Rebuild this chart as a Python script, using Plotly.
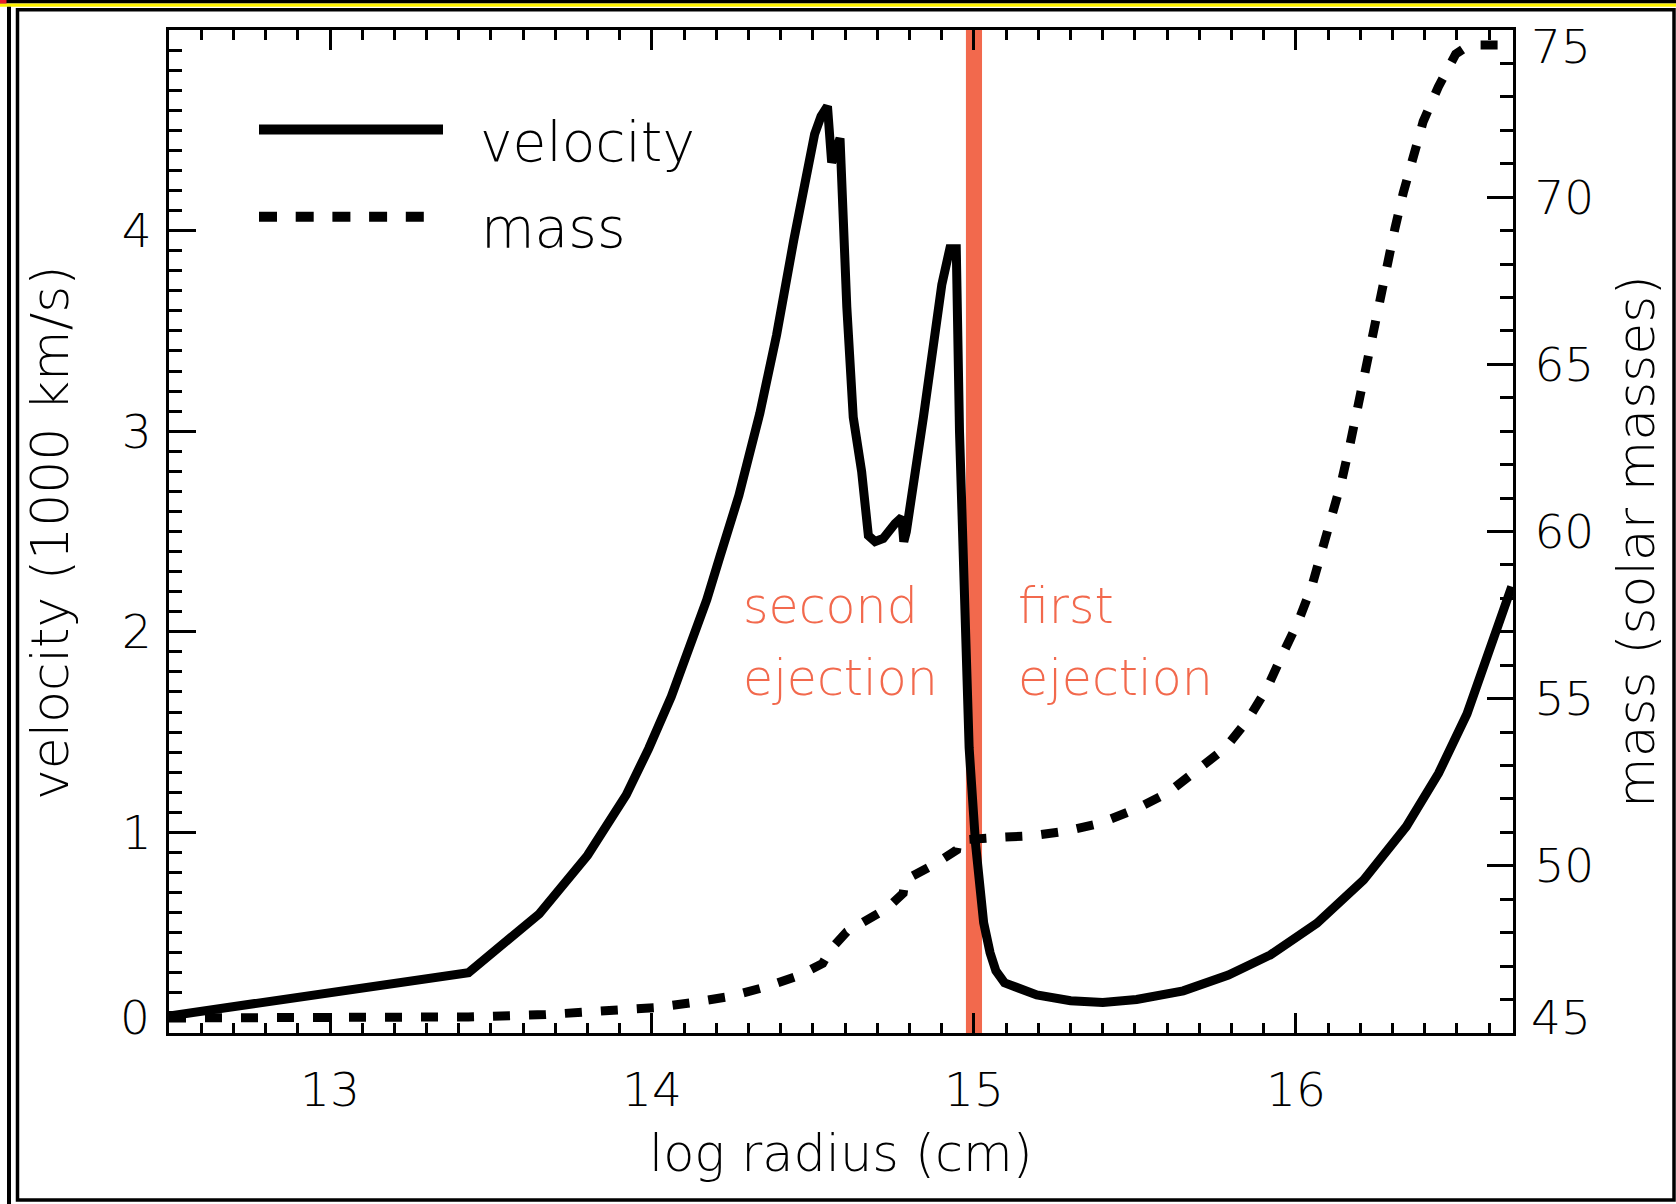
import plotly.graph_objects as go

# ---------------- data ----------------
vel_x = [12.50, 13.43, 13.65, 13.80, 13.92, 13.99, 14.06, 14.12, 14.17, 14.21,
         14.27, 14.335, 14.387, 14.44, 14.48, 14.505, 14.525, 14.545, 14.558,
         14.584, 14.605, 14.625, 14.651, 14.672, 14.693, 14.718, 14.755, 14.776,
         14.782, 14.79, 14.843, 14.874, 14.900, 14.925, 14.945, 14.955, 14.967,
         14.975, 14.985, 15.005, 15.030, 15.050, 15.068, 15.095, 15.195, 15.300,
         15.400, 15.505, 15.650, 15.790, 15.920, 16.065, 16.210, 16.343, 16.443,
         16.531, 16.598, 16.670]
vel_y = [0.085, 0.30, 0.594, 0.886, 1.187, 1.419, 1.677, 1.935, 2.159, 2.37,
         2.68, 3.09, 3.48, 3.95, 4.30, 4.48, 4.57, 4.62, 4.34,
         4.46, 3.62, 3.07, 2.80, 2.48, 2.45, 2.465, 2.54, 2.57,
         2.45, 2.50, 3.07, 3.43, 3.73, 3.91, 3.91, 3.00, 2.36,
         1.90, 1.42, 0.94, 0.55, 0.40, 0.31, 0.25, 0.19, 0.161,
         0.152, 0.167, 0.21, 0.289, 0.389, 0.547, 0.763, 1.03, 1.295,
         1.59, 1.89, 2.225]

mass_x = [12.50, 13.00, 13.43, 13.67, 13.90, 14.01, 14.12, 14.24, 14.35, 14.46,
          14.53, 14.553, 14.605, 14.667, 14.73, 14.78, 14.786, 14.874, 14.946,
          14.951, 15.00, 15.08, 15.18, 15.28, 15.39, 15.50, 15.60, 15.69, 15.78,
          15.85, 15.91, 15.955, 16.005, 16.049, 16.082, 16.113, 16.141, 16.167,
          16.19, 16.211, 16.234, 16.26, 16.281, 16.307, 16.333, 16.364, 16.395,
          16.442, 16.496, 16.53, 16.571, 16.635]
mass_y = [45.45, 45.46, 45.48, 45.55, 45.68, 45.76, 45.90, 46.09, 46.37, 46.73,
          47.08, 47.48, 48.03, 48.38, 48.73, 49.18, 49.58, 50.03, 50.47,
          50.77, 50.82, 50.85, 50.90, 51.03, 51.27, 51.69, 52.17, 52.82, 53.52,
          54.36, 55.31, 56.26, 57.26, 58.35, 59.45, 60.47, 61.48, 62.57,
          63.67, 64.76, 65.82, 66.91, 68.00, 69.05, 70.12, 71.21, 72.26,
          73.30, 74.28, 74.50, 74.55, 74.55]

x_ticks = [13, 14, 15, 16]
x_range = [12.5, 16.674]
v_ticks = [1, 2, 3, 4]
v_range = [0, 5]
m_ticks = [50, 55, 60, 65, 70]
m_range = [45, 75]
ejection_boundary = 15.0
ejection_halfwidth = 0.025

# ---------------- styling / geometry ----------------
W, H = 1676, 1204
L, R, T, B = 169, 1513, 30, 1033
FONT = "DejaVu Sans"
FW = 200
FS = 47
ORANGE = "#F2694D"


def px(X):
    return (X - L) / (R - L)


def py(Y):
    return (B - Y) / (B - T)


fig = go.Figure()
fig.add_trace(go.Scatter(x=vel_x, y=vel_y, mode="lines",
                         line=dict(color="black", width=9),
                         showlegend=False, yaxis="y"))
fig.add_trace(go.Scatter(x=mass_x, y=mass_y, mode="lines",
                         line=dict(color="black", width=9, dash="17px,19px"),
                         showlegend=False, yaxis="y2"))

shapes = [
    # ejection band
    dict(type="rect", xref="x", yref="paper",
         x0=ejection_boundary - ejection_halfwidth,
         x1=ejection_boundary + ejection_halfwidth,
         y0=0, y1=1, fillcolor=ORANGE, line=dict(width=0), layer="below"),
    # legend keys
    dict(type="line", xref="paper", yref="paper", x0=px(259), x1=px(443),
         y0=py(129.5), y1=py(129.5), line=dict(color="black", width=10)),
    dict(type="line", xref="paper", yref="paper", x0=px(259), x1=px(426),
         y0=py(216.7), y1=py(216.7),
         line=dict(color="black", width=10, dash="18px,18.7px")),
    # frame decorations
    dict(type="rect", xref="paper", yref="paper", x0=px(0), x1=px(W),
         y0=py(0), y1=py(3.5), fillcolor="black", line=dict(width=0)),
    dict(type="rect", xref="paper", yref="paper", x0=px(0), x1=px(W),
         y0=py(3.5), y1=py(6.7), fillcolor="#FFF200", line=dict(width=0)),
    dict(type="rect", xref="paper", yref="paper", x0=px(0), x1=px(6.5),
         y0=py(0), y1=py(3.5), fillcolor="#E8202A", line=dict(width=0)),
    dict(type="rect", xref="paper", yref="paper", x0=px(7), x1=px(11),
         y0=py(6.7), y1=py(H), fillcolor="black", line=dict(width=0)),
    dict(type="rect", xref="paper", yref="paper", x0=px(17.5), x1=px(1674),
         y0=py(9.7), y1=py(1200), line=dict(color="black", width=3.5)),
]

annotations = []


def add_text(text, X, Y, xanchor="left", color="black", angle=0, size=FS):
    annotations.append(dict(text=text, xref="paper", yref="paper",
                            x=px(X), y=py(Y), xanchor=xanchor, yanchor="middle",
                            showarrow=False, textangle=angle,
                            font=dict(family=FONT, size=size, color=color,
                                      weight=FW)))


add_text("velocity", 478, 142, size=55)
add_text("mass", 479, 228, size=55)
add_text("second", 741, 606, color=ORANGE, size=49)
add_text("ejection", 741, 679, color=ORANGE, size=49)
add_text("first", 1016, 606, color=ORANGE, size=49)
add_text("ejection", 1016, 679, color=ORANGE, size=49)
# clamped end tick labels
add_text("0", 152, 1017, xanchor="right")
add_text("45", 1529, 1017, xanchor="left")
add_text("75", 1529, 47, xanchor="left")
# axis titles
add_text("log radius (cm)", 841, 1153, xanchor="center", size=51)
add_text("velocity (1000 km/s)", 50, 533, xanchor="center", angle=-90, size=52)
add_text("mass (solar masses)", 1636, 542, xanchor="center", angle=-90, size=52)

axis_common = dict(showgrid=False, zeroline=False, showline=True,
                   linecolor="black", linewidth=3, ticks="inside",
                   tickcolor="black", tickwidth=3,
                   tickfont=dict(family=FONT, size=FS, color="black", weight=FW))

fig.update_layout(
    width=W, height=H,
    margin=dict(l=L, r=W - R, t=T, b=H - B, pad=0),
    paper_bgcolor="white", plot_bgcolor="white",
    shapes=shapes, annotations=annotations,
    xaxis=dict(range=x_range, tickvals=x_ticks, ticklen=20, mirror="ticks",
               ticklabelstandoff=14,
               minor=dict(dtick=0.1, tick0=0, ticklen=10, tickwidth=3,
                          tickcolor="black", ticks="inside"),
               **axis_common),
    yaxis=dict(range=v_range, tickvals=v_ticks, ticklen=27,
               ticklabelstandoff=5,
               minor=dict(dtick=0.1, tick0=0, ticklen=13, tickwidth=3,
                          tickcolor="black", ticks="inside"),
               **axis_common),
    yaxis2=dict(range=m_range, tickvals=m_ticks, ticklen=26, side="right",
                overlaying="y", ticklabelstandoff=9,
                minor=dict(dtick=1, tick0=0, ticklen=13, tickwidth=3,
                           tickcolor="black", ticks="inside"),
                **axis_common),
)

fig.write_html("out.html", config={"displayModeBar": False},
               post_script="document.body.style.margin='0';")
